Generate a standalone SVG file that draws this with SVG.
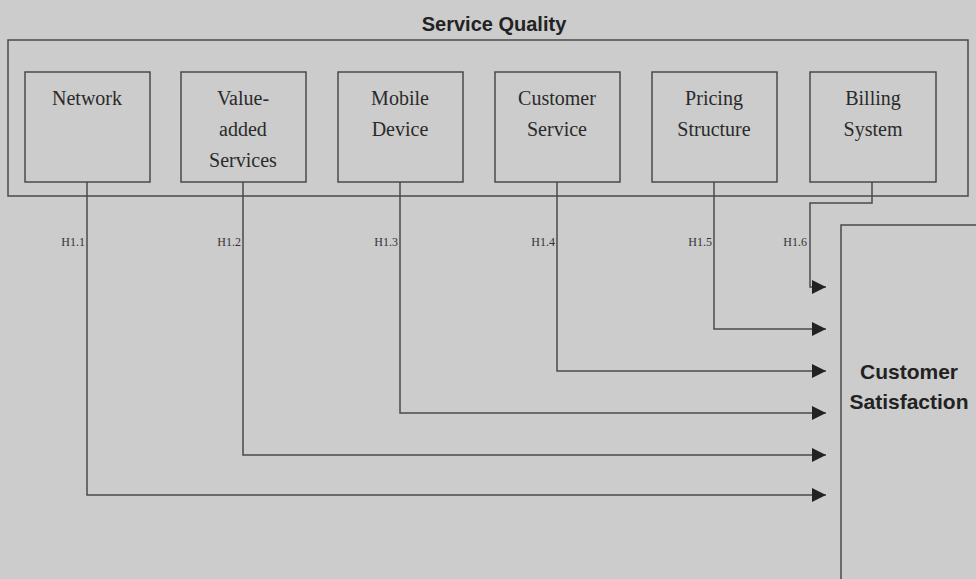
<svg xmlns="http://www.w3.org/2000/svg" width="976" height="579" viewBox="0 0 976 579">
<defs>
<style>
.bg{fill:#cccccc}
.box{fill:#cccccc;stroke:#4a4a4a;stroke-width:1.5}
.t{font-family:"Liberation Serif",serif;font-size:20px;fill:#2a2a2a;text-anchor:middle}
.h{font-family:"Liberation Serif",serif;font-size:12px;fill:#333;text-anchor:end}
.b{font-family:"Liberation Sans",Arial,sans-serif;font-size:20px;font-weight:bold;fill:#222;text-anchor:middle}
.s{font-family:"Liberation Sans",Arial,sans-serif;font-size:21px;font-weight:bold;fill:#222;text-anchor:middle}
.c{fill:none;stroke:#4a4a4a;stroke-width:1.5}
</style>
<marker id="ah" viewBox="0 0 14 14" refX="14" refY="7" markerWidth="14" markerHeight="14" markerUnits="userSpaceOnUse" orient="auto">
<path d="M0,0 L14,7 L0,14 Z" fill="#222"/>
</marker>
</defs>
<rect class="bg" x="0" y="0" width="976" height="579"/>
<g id="service-quality">
<text class="b" x="494" y="31">Service Quality</text>
<rect class="box" x="8" y="40" width="960" height="156"/>
</g>
<g id="network"><rect class="box" x="25" y="72" width="125" height="110"/><text class="t" x="87" y="105">Network</text></g>
<g id="value-added"><rect class="box" x="181" y="72" width="125" height="110"/><text class="t" x="243" y="105">Value-</text><text class="t" x="243" y="136">added</text><text class="t" x="243" y="167">Services</text></g>
<g id="mobile-device"><rect class="box" x="338" y="72" width="125" height="110"/><text class="t" x="400" y="105">Mobile</text><text class="t" x="400" y="136">Device</text></g>
<g id="customer-service"><rect class="box" x="495" y="72" width="125" height="110"/><text class="t" x="557" y="105">Customer</text><text class="t" x="557" y="136">Service</text></g>
<g id="pricing-structure"><rect class="box" x="652" y="72" width="125" height="110"/><text class="t" x="714" y="105">Pricing</text><text class="t" x="714" y="136">Structure</text></g>
<g id="billing-system"><rect class="box" x="810" y="72" width="126" height="110"/><text class="t" x="873" y="105">Billing</text><text class="t" x="873" y="136">System</text></g>
<g id="customer-satisfaction">
<path class="c" d="M841,585 L841,225 L980,225"/>
<text class="s" x="909" y="379">Customer</text>
<text class="s" x="909" y="409">Satisfaction</text>
</g>
<g id="connectors">
<path class="c" d="M87,182 L87,495 L826,495" marker-end="url(#ah)"/>
<path class="c" d="M243,182 L243,455 L826,455" marker-end="url(#ah)"/>
<path class="c" d="M400,182 L400,413 L826,413" marker-end="url(#ah)"/>
<path class="c" d="M557,182 L557,371 L826,371" marker-end="url(#ah)"/>
<path class="c" d="M714,182 L714,329 L826,329" marker-end="url(#ah)"/>
<path class="c" d="M872,182 L872,203 L810,203 L810,287 L826,287" marker-end="url(#ah)"/>
<text class="h" x="85" y="246">H1.1</text>
<text class="h" x="241" y="246">H1.2</text>
<text class="h" x="398" y="246">H1.3</text>
<text class="h" x="555" y="246">H1.4</text>
<text class="h" x="712" y="246">H1.5</text>
<text class="h" x="807" y="246">H1.6</text>
</g>
</svg>
